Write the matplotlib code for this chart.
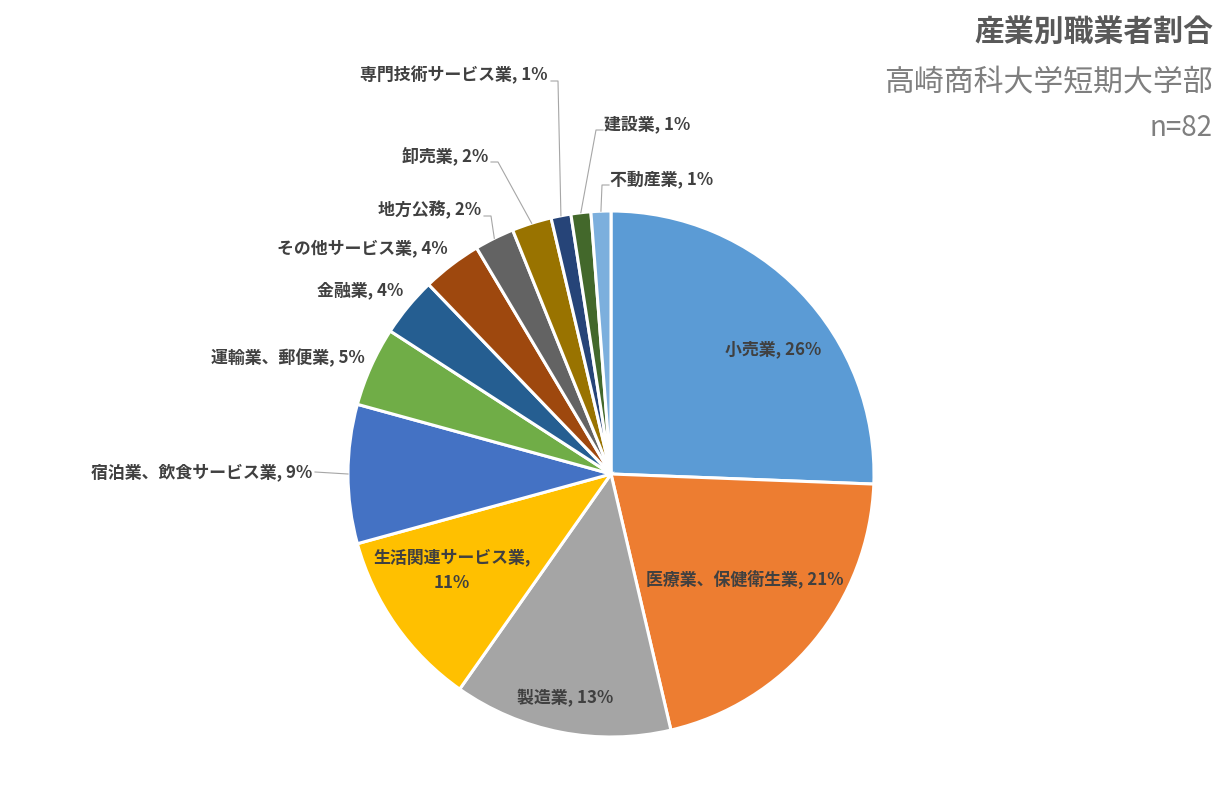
import numpy as np
import matplotlib
matplotlib.use("Agg")
import matplotlib.pyplot as plt

plt.rcParams['font.family'] = ['Noto Sans CJK JP', 'DejaVu Sans']

W, H = 1221, 797

industries = ['小売業', '医療業、保健衛生業', '製造業', '生活関連サービス業',
              '宿泊業、飲食サービス業', '運輸業、郵便業', '金融業', 'その他サービス業',
              '地方公務', '卸売業', '専門技術サービス業', '建設業', '不動産業']
counts = [21, 17, 11, 9, 7, 4, 3, 3, 2, 2, 1, 1, 1]
colors = ['#5B9BD5', '#ED7D31', '#A5A5A5', '#FFC000', '#4472C4', '#70AD47',
          '#255E91', '#9E480E', '#636363', '#997300', '#264478', '#43682B',
          '#7CAFDD']

title = '産業別職業者割合'
subtitle = '高崎商科大学短期大学部'
n_text = 'n=82'

# label placement in pixel coords (x, y, ha, leader?)
label_pos = [
    (773, 349, 'center', False),
    (745, 580, 'center', False),
    (565, 698, 'center', False),
    (452, 570, 'center', False),
    (312, 472, 'right', True),
    (365, 358, 'right', False),
    (403, 290, 'right', False),
    (448, 248, 'right', False),
    (481, 210, 'right', True),
    (488, 156, 'right', True),
    (548, 75, 'right', True),
    (604, 124, 'left', True),
    (610, 179, 'left', True),
]

cx, cy, r = 611, 474, 263

fig = plt.figure(figsize=(W / 100, H / 100), dpi=100)
ax = fig.add_axes([0, 0, 1, 1])
wedges, _ = ax.pie(counts, colors=colors, startangle=90, counterclock=False,
                   center=(cx, H - cy), radius=r,
                   wedgeprops=dict(edgecolor='white', linewidth=2.2))
ax.set_xlim(0, W)
ax.set_ylim(0, H)
ax.set_aspect('equal')
ax.axis('off')

total = sum(counts)
txt_color = '#404040'
for i, (name, c) in enumerate(zip(industries, counts)):
    pct = round(100 * c / total)
    lx, ly, ha, leader = label_pos[i]
    if name == '生活関連サービス業':
        s = f'{name},\n{pct}%'
    else:
        s = f'{name}, {pct}%'
    ax.text(lx, H - ly, s, ha=ha, va='center', fontsize=12.2, fontweight='bold',
            color=txt_color, linespacing=1.5)
    if leader:
        w = wedges[i]
        mid = np.deg2rad((w.theta1 + w.theta2) / 2)
        ex = cx + r * np.cos(mid)
        ey = (H - cy) + r * np.sin(mid)
        if ha == 'right':
            sx = lx + 3
            stub = sx + 7
        else:
            sx = lx - 1
            stub = sx - 7
        sy = H - ly - 6
        if name == '宿泊業、飲食サービス業':
            ax.plot([sx, ex], [H - ly, ey], color='#A6A6A6', lw=0.8)
        else:
            ax.plot([sx, stub, ex], [sy, sy, ey], color='#A6A6A6', lw=0.8)

ax.text(1213, H - 32, title, ha='right', va='center', fontsize=21.5,
        fontweight='bold', color='#595959')
ax.text(1213, H - 82, subtitle, ha='right', va='center', fontsize=21.5,
        color='#7F7F7F')
ax.text(1213, H - 128, n_text, ha='right', va='center', fontsize=20,
        color='#7F7F7F')

fig.savefig('out.png', dpi=100)
